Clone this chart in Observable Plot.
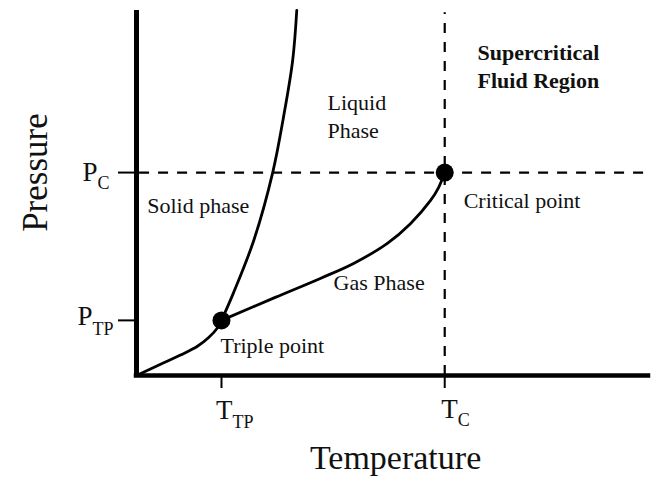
<!DOCTYPE html>
<html><head><meta charset="utf-8">
<script src="https://cdn.jsdelivr.net/npm/d3@7"></script>
<script src="https://cdn.jsdelivr.net/npm/@observablehq/plot@0.6"></script>
<style>html,body{margin:0;padding:0;background:#fff}</style>
</head><body><div id="chart"></div>
<script>
// Key points (abstract units: temperature 0–100, pressure 0–100)
const T_TP = 16.6, T_C = 60.2, P_TP = 15.1, P_C = 55.6;

// Sublimation curve (solid–gas)
const subT = [0, 4.7, 8.6, 11.9, 14.1, 15.8, 16.6];
const subP = [0, 3.1, 5.6, 8.0, 10.4, 13.0, 15.1];
// Fusion curve (solid–liquid)
const fusT = [16.6, 18.9, 22.9, 26.6, 28.7, 30.5, 31.3];
const fusP = [15.1, 22.5, 37.0, 55.6, 70.7, 86.3, 100];
// Vaporization curve (liquid–gas)
const vapT = [16.6, 27.1, 35.9, 42.4, 49.0, 53.5, 57.4, 59.0, 60.2];
const vapP = [15.1, 21.4, 26.6, 30.7, 36.2, 41.6, 47.9, 51.5, 55.6];

// Tick labels
const pTicks = [P_TP, P_C];
const pMain = ["P", "P"];
const pSub = ["TP", "C"];
const tTicks = [T_TP, T_C];
const tMain = ["T", "T"];
const tSub = ["TP", "C"];

// Region labels
const labelText = ["Solid phase", "Liquid\nPhase", "Critical point", "Gas Phase", "Triple point"];
const labelT = [2.1, 37.3, 63.9, 38.5, 16.4];
const labelP = [44.4, 65.2, 46.0, 23.3, 6.3];
const boldText = ["Supercritical\nFluid Region"];
const boldT = [66.6];
const boldP = [78.9];

const zip = (a, b) => a.map((t, i) => ({T: t, P: b[i]}));
const sub = zip(subT, subP), fus = zip(fusT, fusP), vap = zip(vapT, vapP);
const labels = labelText.map((s, i) => ({s, T: labelT[i], P: labelP[i]}));
const bolds = boldText.map((s, i) => ({s, T: boldT[i], P: boldP[i]}));
const points = [{T: T_TP, P: P_TP}, {T: T_C, P: P_C}];
const pRows = pTicks.map((v, i) => ({v, main: pMain[i], sub: pSub[i]}));
const tRows = tTicks.map((v, i) => ({v, main: tMain[i], sub: tSub[i]}));

const font = "'Liberation Serif', 'Times New Roman', serif";
const pOff = [{dx: -44, dy: 5, sdy: 15}, {dx: -39, dy: 8, sdy: 16}];
const tOff = [{dx: 11, dy: 43, sdy: 52}, {dx: 13, dy: 42, sdy: 50}];

const chart = Plot.plot({
  width: 654, height: 477,
  marginLeft: 136, marginRight: 6, marginTop: 10, marginBottom: 102,
  x: {domain: [0, 100], label: null},
  y: {domain: [0, 100], label: null},
  style: {fontFamily: font, color: "#000", background: "#fff", overflow: "visible"},
  marks: [
    Plot.ruleY([P_C], {x1: 0.6, x2: 99.4, stroke: "#000", strokeWidth: 2.2, strokeDasharray: "10,9"}),
    Plot.ruleX([T_C], {y1: 0, y2: 99.4, stroke: "#000", strokeWidth: 2.2, strokeDasharray: "10,9"}),
    Plot.line(sub, {x: "T", y: "P", curve: "catmull-rom", stroke: "#000", strokeWidth: 2.8}),
    Plot.line(fus, {x: "T", y: "P", curve: "catmull-rom", stroke: "#000", strokeWidth: 2.8}),
    Plot.line(vap, {x: "T", y: "P", curve: "catmull-rom", stroke: "#000", strokeWidth: 2.8}),
    Plot.dot(points, {x: "T", y: "P", r: 9, fill: "#000"}),
    Plot.ruleX([0], {y1: 0, y2: 100, stroke: "#000", strokeWidth: 5}),
    Plot.ruleY([0], {x1: 0, x2: 100, stroke: "#000", strokeWidth: 4.5, strokeLinecap: "square"}),
    Plot.axisY(pTicks, {tickSize: 18, strokeWidth: 2, tickFormat: () => "", label: null}),
    Plot.axisX(tTicks, {tickSize: 13, strokeWidth: 2, tickFormat: () => "", label: null}),
    ...pRows.flatMap((d, i) => [
      Plot.text([d], {y: "v", text: "main", frameAnchor: "left", textAnchor: "end", lineAnchor: "bottom",
        dx: pOff[i].dx, dy: pOff[i].dy, fontSize: 27, fill: "#111"}),
      Plot.text([d], {y: "v", text: "sub", frameAnchor: "left", textAnchor: "start", lineAnchor: "bottom",
        dx: pOff[i].dx, dy: pOff[i].sdy, fontSize: 18, fill: "#111"})
    ]),
    ...tRows.flatMap((d, i) => [
      Plot.text([d], {x: "v", text: "main", frameAnchor: "bottom", textAnchor: "end", lineAnchor: "bottom",
        dx: tOff[i].dx, dy: tOff[i].dy, fontSize: 27, fill: "#111"}),
      Plot.text([d], {x: "v", text: "sub", frameAnchor: "bottom", textAnchor: "start", lineAnchor: "bottom",
        dx: tOff[i].dx, dy: tOff[i].sdy, fontSize: 18, fill: "#111"})
    ]),
    Plot.text(labels, {x: "T", y: "P", text: "s", textAnchor: "start", lineAnchor: "bottom",
      lineHeight: 1.23, fontSize: 22, fill: "#111"}),
    Plot.text(bolds, {x: "T", y: "P", text: "s", textAnchor: "start", lineAnchor: "bottom",
      lineHeight: 1.23, fontSize: 22, fontWeight: "bold", fill: "#111"}),
    Plot.text(["Pressure"], {frameAnchor: "left", y: () => P_C, text: d => d, rotate: -90,
      textAnchor: "middle", lineAnchor: "bottom", dx: -90, fontSize: 35, fill: "#111"}),
    Plot.text(["Temperature"], {frameAnchor: "bottom", x: () => 50.6, text: d => d,
      textAnchor: "middle", lineAnchor: "bottom", dy: 93, fontSize: 34, fill: "#111"})
  ]
});
document.getElementById("chart").appendChild(chart);
</script>
</body></html>
